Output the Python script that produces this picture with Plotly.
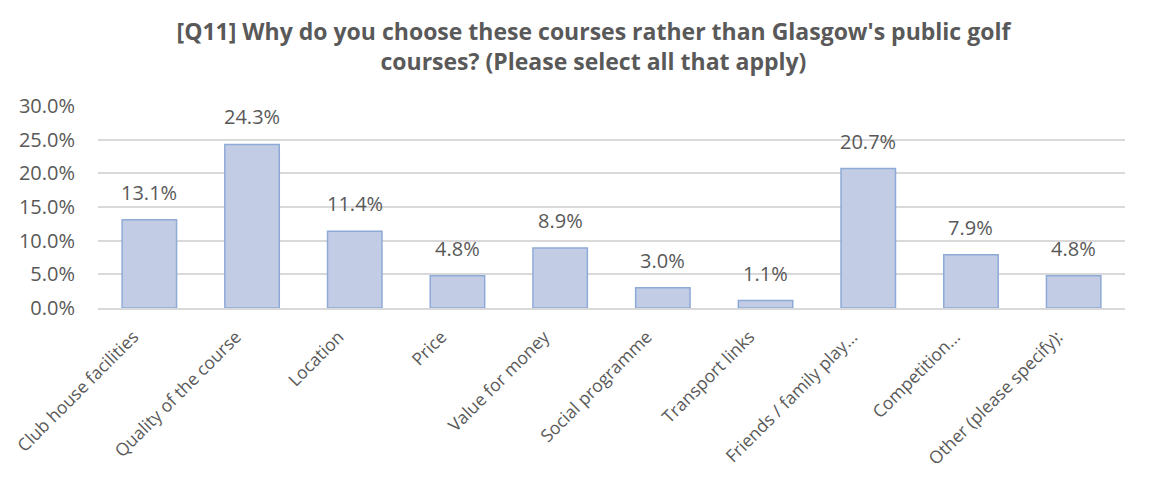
import plotly.graph_objects as go

categories = ["Club house facilities", "Quality of the course", "Location", "Price",
              "Value for money", "Social programme", "Transport links",
              "Friends / family play...", "Competition...", "Other (please specify):"]
values = [0.131, 0.243, 0.114, 0.048, 0.089, 0.030, 0.011, 0.207, 0.079, 0.048]
labels = ["13.1%", "24.3%", "11.4%", "4.8%", "8.9%", "3.0%", "1.1%", "20.7%", "7.9%", "4.8%"]
title = "[Q11] Why do you choose these courses rather than Glasgow's public golf<br>courses? (Please select all that apply)"

grey = "#595959"
fig = go.Figure(go.Bar(
    x=categories, y=values,
    marker=dict(color="#c2cde5", line=dict(color="#8eaad6", width=1.5)),
    width=0.53, cliponaxis=False, hoverinfo="skip",
))
for c, v, t in zip(categories, values, labels):
    fig.add_annotation(x=c, y=v, text=t, showarrow=False, yanchor="bottom",
                       yshift=12, font=dict(family="Open Sans", size=20, color=grey))
fig.update_layout(
    width=1157, height=491,
    margin=dict(l=90, r=40, t=98, b=191),
    paper_bgcolor="white", plot_bgcolor="white",
    title=dict(text=title, x=0.506, xanchor="center", y=0.935, yanchor="top",
               font=dict(family="Open Sans", size=23, color=grey, weight="bold")),
    font=dict(family="Open Sans", color=grey),
    showlegend=False,
)
fig.update_yaxes(range=[0, 0.30], dtick=0.05, tickformat=".1%",
                 tickfont=dict(size=20, color=grey), gridcolor="#d9d9d9",
                 gridwidth=1.5, zeroline=False, showline=False,
                 ticks="outside", ticklen=18, tickcolor="rgba(0,0,0,0)",
                 automargin=False)
fig.update_xaxes(tickangle=-45, tickfont=dict(size=17.5, color=grey),
                 showline=True, linecolor="#d9d9d9", linewidth=1.5, ticks="",
                 automargin=False, ticklabelstandoff=10, ticklabelshift=-16)
fig.write_html("out.html")
